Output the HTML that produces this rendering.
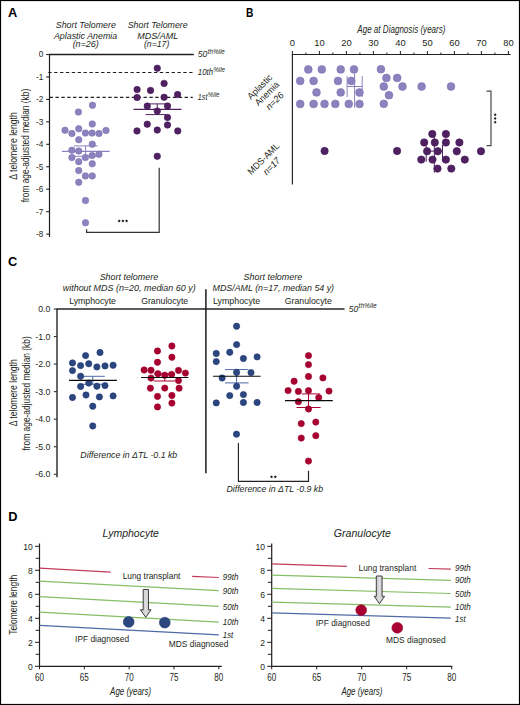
<!DOCTYPE html>
<html><head><meta charset="utf-8"><title>Figure</title>
<style>html,body{margin:0;padding:0;background:#fff;overflow:hidden;width:520px;height:705px;}svg{display:block;}</style>
</head><body>
<svg width="520" height="705" viewBox="0 0 520 705" font-family='"Liberation Sans", sans-serif'>
<defs><linearGradient id="ag" x1="0" y1="0" x2="1" y2="0"><stop offset="0" stop-color="#b9b9bb"/><stop offset="0.5" stop-color="#dedee0"/><stop offset="1" stop-color="#b9b9bb"/></linearGradient></defs>
<rect x="0" y="0" width="520" height="705" fill="#fff"/>
<text x="8.00" y="16.80" font-size="12.8" text-anchor="start" fill="#000" font-weight="bold" >A</text>
<text x="85.80" y="27.60" font-size="9" text-anchor="middle" fill="#231f20" font-style="italic" textLength="60.00" lengthAdjust="spacingAndGlyphs" >Short Telomere</text>
<text x="85.60" y="38.50" font-size="9" text-anchor="middle" fill="#231f20" font-style="italic" textLength="63.40" lengthAdjust="spacingAndGlyphs" >Aplastic Anemia</text>
<text x="85.70" y="47.30" font-size="9" text-anchor="middle" fill="#231f20" font-style="italic" textLength="26.10" lengthAdjust="spacingAndGlyphs" >(n=26)</text>
<text x="157.70" y="27.60" font-size="9" text-anchor="middle" fill="#231f20" font-style="italic" textLength="60.00" lengthAdjust="spacingAndGlyphs" >Short Telomere</text>
<text x="157.70" y="38.50" font-size="9" text-anchor="middle" fill="#231f20" font-style="italic" textLength="41.00" lengthAdjust="spacingAndGlyphs" >MDS/AML</text>
<text x="156.60" y="47.30" font-size="9" text-anchor="middle" fill="#231f20" font-style="italic" textLength="25.40" lengthAdjust="spacingAndGlyphs" >(n=17)</text>
<line x1="49.50" y1="54.50" x2="49.50" y2="237.00" stroke="#231f20" stroke-width="1.2" stroke-linecap="butt"/>
<line x1="48.90" y1="54.50" x2="193.80" y2="54.50" stroke="#231f20" stroke-width="1.3" stroke-linecap="butt"/>
<line x1="46.20" y1="54.50" x2="49.50" y2="54.50" stroke="#231f20" stroke-width="1.1" stroke-linecap="butt"/>
<text x="43.20" y="57.40" font-size="8.2" text-anchor="end" fill="#231f20"  >0</text>
<line x1="46.20" y1="76.95" x2="49.50" y2="76.95" stroke="#231f20" stroke-width="1.1" stroke-linecap="butt"/>
<text x="43.20" y="79.85" font-size="8.2" text-anchor="end" fill="#231f20"  >-1</text>
<line x1="46.20" y1="99.40" x2="49.50" y2="99.40" stroke="#231f20" stroke-width="1.1" stroke-linecap="butt"/>
<text x="43.20" y="102.30" font-size="8.2" text-anchor="end" fill="#231f20"  >-2</text>
<line x1="46.20" y1="121.85" x2="49.50" y2="121.85" stroke="#231f20" stroke-width="1.1" stroke-linecap="butt"/>
<text x="43.20" y="124.75" font-size="8.2" text-anchor="end" fill="#231f20"  >-3</text>
<line x1="46.20" y1="144.30" x2="49.50" y2="144.30" stroke="#231f20" stroke-width="1.1" stroke-linecap="butt"/>
<text x="43.20" y="147.20" font-size="8.2" text-anchor="end" fill="#231f20"  >-4</text>
<line x1="46.20" y1="166.75" x2="49.50" y2="166.75" stroke="#231f20" stroke-width="1.1" stroke-linecap="butt"/>
<text x="43.20" y="169.65" font-size="8.2" text-anchor="end" fill="#231f20"  >-5</text>
<line x1="46.20" y1="189.20" x2="49.50" y2="189.20" stroke="#231f20" stroke-width="1.1" stroke-linecap="butt"/>
<text x="43.20" y="192.10" font-size="8.2" text-anchor="end" fill="#231f20"  >-6</text>
<line x1="46.20" y1="211.65" x2="49.50" y2="211.65" stroke="#231f20" stroke-width="1.1" stroke-linecap="butt"/>
<text x="43.20" y="214.55" font-size="8.2" text-anchor="end" fill="#231f20"  >-7</text>
<line x1="46.20" y1="234.10" x2="49.50" y2="234.10" stroke="#231f20" stroke-width="1.1" stroke-linecap="butt"/>
<text x="43.20" y="237.00" font-size="8.2" text-anchor="end" fill="#231f20"  >-8</text>
<line x1="48.30" y1="72.50" x2="192.80" y2="72.50" stroke="#231f20" stroke-width="1.05" stroke-dasharray="3.35 2.52" stroke-linecap="butt"/>
<line x1="49.60" y1="97.35" x2="192.80" y2="97.35" stroke="#231f20" stroke-width="1.05" stroke-dasharray="3.35 2.52" stroke-linecap="butt"/>
<text x="197.80" y="57.20" font-size="9.0" text-anchor="start" fill="#231f20" font-style="italic" textLength="9.60" lengthAdjust="spacingAndGlyphs" >50</text>
<text x="207.70" y="54.10" font-size="6.8" text-anchor="start" fill="#231f20" font-style="italic" textLength="17.20" lengthAdjust="spacingAndGlyphs" >th%ile</text>
<text x="197.80" y="75.20" font-size="9.0" text-anchor="start" fill="#231f20" font-style="italic" textLength="15.20" lengthAdjust="spacingAndGlyphs" >10th</text>
<text x="213.30" y="72.10" font-size="6.8" text-anchor="start" fill="#231f20" font-style="italic" textLength="11.80" lengthAdjust="spacingAndGlyphs" >%ile</text>
<text x="197.80" y="100.00" font-size="9.0" text-anchor="start" fill="#231f20" font-style="italic" textLength="9.60" lengthAdjust="spacingAndGlyphs" >1st</text>
<text x="207.70" y="96.90" font-size="6.8" text-anchor="start" fill="#231f20" font-style="italic" textLength="11.80" lengthAdjust="spacingAndGlyphs" >%ile</text>
<text x="17.30" y="146.00" font-size="10" text-anchor="middle" fill="#231f20"  textLength="67.50" lengthAdjust="spacingAndGlyphs" transform="rotate(-90 17.30 146.00)" >Δ telomere length</text>
<text x="28.80" y="145.60" font-size="10" text-anchor="middle" fill="#231f20"  textLength="113.50" lengthAdjust="spacingAndGlyphs" transform="rotate(-90 28.80 145.60)" >from age-adjusted median (kb)</text>
<line x1="61.90" y1="151.40" x2="109.60" y2="151.40" stroke="#8b82be" stroke-width="1.3" stroke-linecap="butt"/>
<line x1="74.00" y1="145.90" x2="97.50" y2="145.90" stroke="#8b82be" stroke-width="1.0" stroke-linecap="butt"/>
<line x1="74.00" y1="156.30" x2="97.50" y2="156.30" stroke="#8b82be" stroke-width="1.0" stroke-linecap="butt"/>
<line x1="85.60" y1="145.90" x2="85.60" y2="156.30" stroke="#8b82be" stroke-width="1.0" stroke-linecap="butt"/>
<circle cx="92.50" cy="105.25" r="3.25" fill="#8b82be" stroke="#7d73b5" stroke-width="0.6"/>
<circle cx="78.40" cy="112.10" r="3.25" fill="#8b82be" stroke="#7d73b5" stroke-width="0.6"/>
<circle cx="92.25" cy="124.00" r="3.25" fill="#8b82be" stroke="#7d73b5" stroke-width="0.6"/>
<circle cx="65.00" cy="130.25" r="3.25" fill="#8b82be" stroke="#7d73b5" stroke-width="0.6"/>
<circle cx="78.75" cy="128.75" r="3.25" fill="#8b82be" stroke="#7d73b5" stroke-width="0.6"/>
<circle cx="71.90" cy="133.50" r="3.25" fill="#8b82be" stroke="#7d73b5" stroke-width="0.6"/>
<circle cx="85.40" cy="133.10" r="3.25" fill="#8b82be" stroke="#7d73b5" stroke-width="0.6"/>
<circle cx="92.10" cy="133.10" r="3.25" fill="#8b82be" stroke="#7d73b5" stroke-width="0.6"/>
<circle cx="99.00" cy="133.50" r="3.25" fill="#8b82be" stroke="#7d73b5" stroke-width="0.6"/>
<circle cx="106.00" cy="130.40" r="3.25" fill="#8b82be" stroke="#7d73b5" stroke-width="0.6"/>
<circle cx="78.75" cy="139.75" r="3.25" fill="#8b82be" stroke="#7d73b5" stroke-width="0.6"/>
<circle cx="92.25" cy="144.20" r="3.25" fill="#8b82be" stroke="#7d73b5" stroke-width="0.6"/>
<circle cx="71.90" cy="150.20" r="3.25" fill="#8b82be" stroke="#7d73b5" stroke-width="0.6"/>
<circle cx="78.75" cy="151.00" r="3.25" fill="#8b82be" stroke="#7d73b5" stroke-width="0.6"/>
<circle cx="98.90" cy="154.30" r="3.25" fill="#8b82be" stroke="#7d73b5" stroke-width="0.6"/>
<circle cx="92.10" cy="155.60" r="3.25" fill="#8b82be" stroke="#7d73b5" stroke-width="0.6"/>
<circle cx="85.40" cy="157.50" r="3.25" fill="#8b82be" stroke="#7d73b5" stroke-width="0.6"/>
<circle cx="71.90" cy="157.60" r="3.25" fill="#8b82be" stroke="#7d73b5" stroke-width="0.6"/>
<circle cx="78.75" cy="161.70" r="3.25" fill="#8b82be" stroke="#7d73b5" stroke-width="0.6"/>
<circle cx="92.25" cy="163.80" r="3.25" fill="#8b82be" stroke="#7d73b5" stroke-width="0.6"/>
<circle cx="78.75" cy="170.60" r="3.25" fill="#8b82be" stroke="#7d73b5" stroke-width="0.6"/>
<circle cx="85.40" cy="175.90" r="3.25" fill="#8b82be" stroke="#7d73b5" stroke-width="0.6"/>
<circle cx="92.25" cy="175.90" r="3.25" fill="#8b82be" stroke="#7d73b5" stroke-width="0.6"/>
<circle cx="78.75" cy="182.30" r="3.25" fill="#8b82be" stroke="#7d73b5" stroke-width="0.6"/>
<circle cx="85.50" cy="200.50" r="3.25" fill="#8b82be" stroke="#7d73b5" stroke-width="0.6"/>
<circle cx="85.50" cy="222.70" r="3.25" fill="#8b82be" stroke="#7d73b5" stroke-width="0.6"/>
<line x1="133.50" y1="109.40" x2="181.50" y2="109.40" stroke="#4f2161" stroke-width="1.4" stroke-linecap="butt"/>
<line x1="147.50" y1="103.90" x2="167.50" y2="103.90" stroke="#4f2161" stroke-width="1.0" stroke-linecap="butt"/>
<line x1="145.60" y1="114.60" x2="166.00" y2="114.60" stroke="#4f2161" stroke-width="1.0" stroke-linecap="butt"/>
<line x1="157.25" y1="103.90" x2="157.25" y2="114.60" stroke="#4f2161" stroke-width="1.0" stroke-linecap="butt"/>
<circle cx="157.25" cy="68.25" r="3.25" fill="#4f2161" stroke="#45165a" stroke-width="0.6"/>
<circle cx="164.10" cy="83.40" r="3.25" fill="#4f2161" stroke="#45165a" stroke-width="0.6"/>
<circle cx="137.10" cy="89.60" r="3.25" fill="#4f2161" stroke="#45165a" stroke-width="0.6"/>
<circle cx="150.50" cy="90.40" r="3.25" fill="#4f2161" stroke="#45165a" stroke-width="0.6"/>
<circle cx="177.60" cy="94.60" r="3.25" fill="#4f2161" stroke="#45165a" stroke-width="0.6"/>
<circle cx="137.10" cy="97.50" r="3.25" fill="#4f2161" stroke="#45165a" stroke-width="0.6"/>
<circle cx="164.10" cy="97.30" r="3.25" fill="#4f2161" stroke="#45165a" stroke-width="0.6"/>
<circle cx="147.25" cy="106.10" r="3.25" fill="#4f2161" stroke="#45165a" stroke-width="0.6"/>
<circle cx="167.50" cy="106.00" r="3.25" fill="#4f2161" stroke="#45165a" stroke-width="0.6"/>
<circle cx="157.25" cy="111.10" r="3.25" fill="#4f2161" stroke="#45165a" stroke-width="0.6"/>
<circle cx="167.50" cy="117.40" r="3.25" fill="#4f2161" stroke="#45165a" stroke-width="0.6"/>
<circle cx="147.25" cy="124.20" r="3.25" fill="#4f2161" stroke="#45165a" stroke-width="0.6"/>
<circle cx="167.50" cy="125.00" r="3.25" fill="#4f2161" stroke="#45165a" stroke-width="0.6"/>
<circle cx="137.00" cy="130.90" r="3.25" fill="#4f2161" stroke="#45165a" stroke-width="0.6"/>
<circle cx="157.25" cy="130.10" r="3.25" fill="#4f2161" stroke="#45165a" stroke-width="0.6"/>
<circle cx="177.75" cy="130.90" r="3.25" fill="#4f2161" stroke="#45165a" stroke-width="0.6"/>
<circle cx="157.25" cy="156.30" r="3.25" fill="#4f2161" stroke="#45165a" stroke-width="0.6"/>
<polyline points="86.60,229.30 86.60,232.30 159.20,232.30 159.20,167.70" stroke="#333" stroke-width="1.2" fill="none"/>
<polygon points="119.20,219.25 119.67,220.35 120.86,220.46 119.96,221.25 120.23,222.42 119.20,221.80 118.17,222.42 118.44,221.25 117.54,220.46 118.73,220.35" fill="#111"/>
<polygon points="122.90,219.25 123.37,220.35 124.56,220.46 123.66,221.25 123.93,222.42 122.90,221.80 121.87,222.42 122.14,221.25 121.24,220.46 122.43,220.35" fill="#111"/>
<polygon points="126.60,219.25 127.07,220.35 128.26,220.46 127.36,221.25 127.63,222.42 126.60,221.80 125.57,222.42 125.84,221.25 124.94,220.46 126.13,220.35" fill="#111"/>
<text x="246.00" y="16.80" font-size="13.2" text-anchor="start" fill="#000" font-weight="bold" textLength="7.40" lengthAdjust="spacingAndGlyphs" >B</text>
<line x1="292.00" y1="54.50" x2="510.60" y2="54.50" stroke="#231f20" stroke-width="1.15" stroke-linecap="butt"/>
<line x1="292.40" y1="54.00" x2="292.40" y2="184.60" stroke="#231f20" stroke-width="1.15" stroke-linecap="butt"/>
<line x1="292.40" y1="51.00" x2="292.40" y2="54.50" stroke="#231f20" stroke-width="1.0" stroke-linecap="butt"/>
<text x="292.40" y="45.50" font-size="9.4" text-anchor="middle" fill="#231f20"  >0</text>
<line x1="305.90" y1="52.50" x2="305.90" y2="54.50" stroke="#231f20" stroke-width="1.0" stroke-linecap="butt"/>
<line x1="319.40" y1="51.00" x2="319.40" y2="54.50" stroke="#231f20" stroke-width="1.0" stroke-linecap="butt"/>
<text x="319.40" y="45.50" font-size="9.4" text-anchor="middle" fill="#231f20"  >10</text>
<line x1="332.90" y1="52.50" x2="332.90" y2="54.50" stroke="#231f20" stroke-width="1.0" stroke-linecap="butt"/>
<line x1="346.40" y1="51.00" x2="346.40" y2="54.50" stroke="#231f20" stroke-width="1.0" stroke-linecap="butt"/>
<text x="346.40" y="45.50" font-size="9.4" text-anchor="middle" fill="#231f20"  >20</text>
<line x1="359.90" y1="52.50" x2="359.90" y2="54.50" stroke="#231f20" stroke-width="1.0" stroke-linecap="butt"/>
<line x1="373.40" y1="51.00" x2="373.40" y2="54.50" stroke="#231f20" stroke-width="1.0" stroke-linecap="butt"/>
<text x="373.40" y="45.50" font-size="9.4" text-anchor="middle" fill="#231f20"  >30</text>
<line x1="386.90" y1="52.50" x2="386.90" y2="54.50" stroke="#231f20" stroke-width="1.0" stroke-linecap="butt"/>
<line x1="400.40" y1="51.00" x2="400.40" y2="54.50" stroke="#231f20" stroke-width="1.0" stroke-linecap="butt"/>
<text x="400.40" y="45.50" font-size="9.4" text-anchor="middle" fill="#231f20"  >40</text>
<line x1="413.90" y1="52.50" x2="413.90" y2="54.50" stroke="#231f20" stroke-width="1.0" stroke-linecap="butt"/>
<line x1="427.40" y1="51.00" x2="427.40" y2="54.50" stroke="#231f20" stroke-width="1.0" stroke-linecap="butt"/>
<text x="427.40" y="45.50" font-size="9.4" text-anchor="middle" fill="#231f20"  >50</text>
<line x1="440.90" y1="52.50" x2="440.90" y2="54.50" stroke="#231f20" stroke-width="1.0" stroke-linecap="butt"/>
<line x1="454.40" y1="51.00" x2="454.40" y2="54.50" stroke="#231f20" stroke-width="1.0" stroke-linecap="butt"/>
<text x="454.40" y="45.50" font-size="9.4" text-anchor="middle" fill="#231f20"  >60</text>
<line x1="467.90" y1="52.50" x2="467.90" y2="54.50" stroke="#231f20" stroke-width="1.0" stroke-linecap="butt"/>
<line x1="481.40" y1="51.00" x2="481.40" y2="54.50" stroke="#231f20" stroke-width="1.0" stroke-linecap="butt"/>
<text x="481.40" y="45.50" font-size="9.4" text-anchor="middle" fill="#231f20"  >70</text>
<line x1="494.90" y1="52.50" x2="494.90" y2="54.50" stroke="#231f20" stroke-width="1.0" stroke-linecap="butt"/>
<line x1="508.40" y1="51.00" x2="508.40" y2="54.50" stroke="#231f20" stroke-width="1.0" stroke-linecap="butt"/>
<text x="508.40" y="45.50" font-size="9.4" text-anchor="middle" fill="#231f20"  >80</text>
<text x="401.40" y="32.50" font-size="10.2" text-anchor="middle" fill="#231f20" font-style="italic" textLength="88.20" lengthAdjust="spacingAndGlyphs" >Age at Diagnosis (years)</text>
<text x="262.00" y="89.00" font-size="9.2" text-anchor="middle" fill="#231f20"  textLength="31.20" lengthAdjust="spacingAndGlyphs" transform="rotate(-45 262.00 89.00)" >Aplastic</text>
<text x="269.20" y="95.70" font-size="9.2" text-anchor="middle" fill="#231f20"  textLength="30.00" lengthAdjust="spacingAndGlyphs" transform="rotate(-45 269.20 95.70)" >Anemia</text>
<text x="276.90" y="103.20" font-size="9.2" text-anchor="middle" fill="#231f20" font-style="italic" textLength="21.00" lengthAdjust="spacingAndGlyphs" transform="rotate(-45 276.90 103.20)" >n=26</text>
<text x="265.60" y="160.90" font-size="9.2" text-anchor="middle" fill="#231f20"  textLength="40.50" lengthAdjust="spacingAndGlyphs" transform="rotate(-45 265.60 160.90)" >MDS-AML</text>
<text x="273.80" y="168.40" font-size="9.2" text-anchor="middle" fill="#231f20" font-style="italic" textLength="20.00" lengthAdjust="spacingAndGlyphs" transform="rotate(-45 273.80 168.40)" >n=17</text>
<circle cx="308.30" cy="69.40" r="3.90" fill="#8b82be" stroke="#7d73b5" stroke-width="0.6"/>
<circle cx="321.80" cy="69.40" r="3.90" fill="#8b82be" stroke="#7d73b5" stroke-width="0.6"/>
<circle cx="340.70" cy="69.40" r="3.90" fill="#8b82be" stroke="#7d73b5" stroke-width="0.6"/>
<circle cx="354.00" cy="69.40" r="3.90" fill="#8b82be" stroke="#7d73b5" stroke-width="0.6"/>
<circle cx="380.90" cy="69.20" r="3.90" fill="#8b82be" stroke="#7d73b5" stroke-width="0.6"/>
<circle cx="300.20" cy="80.90" r="3.90" fill="#8b82be" stroke="#7d73b5" stroke-width="0.6"/>
<circle cx="313.60" cy="80.90" r="3.90" fill="#8b82be" stroke="#7d73b5" stroke-width="0.6"/>
<circle cx="338.00" cy="80.90" r="3.90" fill="#8b82be" stroke="#7d73b5" stroke-width="0.6"/>
<circle cx="351.30" cy="80.90" r="3.90" fill="#8b82be" stroke="#7d73b5" stroke-width="0.6"/>
<circle cx="316.50" cy="92.40" r="3.90" fill="#8b82be" stroke="#7d73b5" stroke-width="0.6"/>
<circle cx="340.70" cy="92.40" r="3.90" fill="#8b82be" stroke="#7d73b5" stroke-width="0.6"/>
<circle cx="359.50" cy="92.50" r="3.90" fill="#8b82be" stroke="#7d73b5" stroke-width="0.6"/>
<circle cx="300.20" cy="103.90" r="3.90" fill="#8b82be" stroke="#7d73b5" stroke-width="0.6"/>
<circle cx="313.60" cy="103.90" r="3.90" fill="#8b82be" stroke="#7d73b5" stroke-width="0.6"/>
<circle cx="324.50" cy="103.90" r="3.90" fill="#8b82be" stroke="#7d73b5" stroke-width="0.6"/>
<circle cx="335.30" cy="103.90" r="3.90" fill="#8b82be" stroke="#7d73b5" stroke-width="0.6"/>
<circle cx="348.80" cy="103.90" r="3.90" fill="#8b82be" stroke="#7d73b5" stroke-width="0.6"/>
<circle cx="359.50" cy="103.90" r="3.90" fill="#8b82be" stroke="#7d73b5" stroke-width="0.6"/>
<circle cx="386.40" cy="77.90" r="3.90" fill="#8b82be" stroke="#7d73b5" stroke-width="0.6"/>
<circle cx="397.20" cy="77.90" r="3.90" fill="#8b82be" stroke="#7d73b5" stroke-width="0.6"/>
<circle cx="383.80" cy="86.50" r="3.90" fill="#8b82be" stroke="#7d73b5" stroke-width="0.6"/>
<circle cx="402.50" cy="86.50" r="3.90" fill="#8b82be" stroke="#7d73b5" stroke-width="0.6"/>
<circle cx="421.60" cy="86.50" r="3.90" fill="#8b82be" stroke="#7d73b5" stroke-width="0.6"/>
<circle cx="451.00" cy="86.50" r="3.90" fill="#8b82be" stroke="#7d73b5" stroke-width="0.6"/>
<circle cx="389.00" cy="95.20" r="3.90" fill="#8b82be" stroke="#7d73b5" stroke-width="0.6"/>
<circle cx="383.80" cy="103.80" r="3.90" fill="#8b82be" stroke="#7d73b5" stroke-width="0.6"/>
<line x1="354.60" y1="73.50" x2="354.60" y2="107.80" stroke="#8b82be" stroke-width="1.0" stroke-linecap="butt"/>
<line x1="347.10" y1="76.20" x2="347.10" y2="97.00" stroke="#8b82be" stroke-width="1.0" stroke-linecap="butt"/>
<line x1="362.20" y1="76.20" x2="362.20" y2="97.00" stroke="#8b82be" stroke-width="1.0" stroke-linecap="butt"/>
<line x1="347.10" y1="86.50" x2="362.20" y2="86.50" stroke="#8b82be" stroke-width="1.0" stroke-linecap="butt"/>
<circle cx="324.60" cy="151.00" r="3.70" fill="#4f2161" stroke="#45165a" stroke-width="0.6"/>
<circle cx="397.10" cy="151.00" r="3.70" fill="#4f2161" stroke="#45165a" stroke-width="0.6"/>
<circle cx="481.00" cy="151.30" r="3.70" fill="#4f2161" stroke="#45165a" stroke-width="0.6"/>
<circle cx="432.30" cy="134.00" r="3.70" fill="#4f2161" stroke="#45165a" stroke-width="0.6"/>
<circle cx="445.90" cy="134.00" r="3.70" fill="#4f2161" stroke="#45165a" stroke-width="0.6"/>
<circle cx="424.20" cy="142.50" r="3.70" fill="#4f2161" stroke="#45165a" stroke-width="0.6"/>
<circle cx="434.80" cy="142.50" r="3.70" fill="#4f2161" stroke="#45165a" stroke-width="0.6"/>
<circle cx="445.90" cy="142.50" r="3.70" fill="#4f2161" stroke="#45165a" stroke-width="0.6"/>
<circle cx="459.40" cy="142.50" r="3.70" fill="#4f2161" stroke="#45165a" stroke-width="0.6"/>
<circle cx="427.10" cy="151.30" r="3.70" fill="#4f2161" stroke="#45165a" stroke-width="0.6"/>
<circle cx="437.80" cy="151.30" r="3.70" fill="#4f2161" stroke="#45165a" stroke-width="0.6"/>
<circle cx="456.80" cy="151.30" r="3.70" fill="#4f2161" stroke="#45165a" stroke-width="0.6"/>
<circle cx="421.30" cy="159.60" r="3.70" fill="#4f2161" stroke="#45165a" stroke-width="0.6"/>
<circle cx="432.50" cy="159.60" r="3.70" fill="#4f2161" stroke="#45165a" stroke-width="0.6"/>
<circle cx="445.90" cy="159.60" r="3.70" fill="#4f2161" stroke="#45165a" stroke-width="0.6"/>
<circle cx="464.80" cy="159.60" r="3.70" fill="#4f2161" stroke="#45165a" stroke-width="0.6"/>
<circle cx="437.50" cy="168.60" r="3.70" fill="#4f2161" stroke="#45165a" stroke-width="0.6"/>
<circle cx="451.30" cy="168.60" r="3.70" fill="#4f2161" stroke="#45165a" stroke-width="0.6"/>
<line x1="434.30" y1="137.00" x2="434.30" y2="172.60" stroke="#4f2161" stroke-width="1.0" stroke-linecap="butt"/>
<line x1="426.20" y1="146.00" x2="426.20" y2="161.80" stroke="#4f2161" stroke-width="1.0" stroke-linecap="butt"/>
<line x1="442.50" y1="145.00" x2="442.50" y2="161.50" stroke="#4f2161" stroke-width="1.0" stroke-linecap="butt"/>
<line x1="426.20" y1="151.10" x2="442.50" y2="151.10" stroke="#4f2161" stroke-width="1.0" stroke-linecap="butt"/>
<polyline points="486.50,91.10 491.00,91.10 491.00,145.60 486.50,145.60" stroke="#4a4a4a" stroke-width="1.2" fill="none"/>
<polygon points="496.85,114.70 495.75,115.17 495.64,116.36 494.85,115.46 493.68,115.73 494.30,114.70 493.68,113.67 494.85,113.94 495.64,113.04 495.75,114.23" fill="#111"/>
<polygon points="496.85,118.45 495.75,118.92 495.64,120.11 494.85,119.21 493.68,119.48 494.30,118.45 493.68,117.42 494.85,117.69 495.64,116.79 495.75,117.98" fill="#111"/>
<polygon points="496.85,122.20 495.75,122.67 495.64,123.86 494.85,122.96 493.68,123.23 494.30,122.20 493.68,121.17 494.85,121.44 495.64,120.54 495.75,121.73" fill="#111"/>
<text x="7.90" y="266.20" font-size="12.8" text-anchor="start" fill="#000" font-weight="bold" >C</text>
<line x1="57.00" y1="308.90" x2="57.00" y2="477.30" stroke="#262626" stroke-width="1.4" stroke-linecap="butt"/>
<line x1="56.40" y1="309.00" x2="344.50" y2="309.00" stroke="#262626" stroke-width="1.5" stroke-linecap="butt"/>
<line x1="53.80" y1="309.00" x2="57.00" y2="309.00" stroke="#333" stroke-width="1.1" stroke-linecap="butt"/>
<text x="50.40" y="312.00" font-size="8.8" text-anchor="end" fill="#231f20"  >0.0</text>
<line x1="53.80" y1="336.55" x2="57.00" y2="336.55" stroke="#333" stroke-width="1.1" stroke-linecap="butt"/>
<text x="50.40" y="339.55" font-size="8.8" text-anchor="end" fill="#231f20"  >-1.0</text>
<line x1="53.80" y1="364.10" x2="57.00" y2="364.10" stroke="#333" stroke-width="1.1" stroke-linecap="butt"/>
<text x="50.40" y="367.10" font-size="8.8" text-anchor="end" fill="#231f20"  >-2.0</text>
<line x1="53.80" y1="391.65" x2="57.00" y2="391.65" stroke="#333" stroke-width="1.1" stroke-linecap="butt"/>
<text x="50.40" y="394.65" font-size="8.8" text-anchor="end" fill="#231f20"  >-3.0</text>
<line x1="53.80" y1="419.20" x2="57.00" y2="419.20" stroke="#333" stroke-width="1.1" stroke-linecap="butt"/>
<text x="50.40" y="422.20" font-size="8.8" text-anchor="end" fill="#231f20"  >-4.0</text>
<line x1="53.80" y1="446.75" x2="57.00" y2="446.75" stroke="#333" stroke-width="1.1" stroke-linecap="butt"/>
<text x="50.40" y="449.75" font-size="8.8" text-anchor="end" fill="#231f20"  >-5.0</text>
<line x1="53.80" y1="474.30" x2="57.00" y2="474.30" stroke="#333" stroke-width="1.1" stroke-linecap="butt"/>
<text x="50.40" y="477.30" font-size="8.8" text-anchor="end" fill="#231f20"  >-6.0</text>
<line x1="205.90" y1="289.20" x2="205.90" y2="473.20" stroke="#1a1a1a" stroke-width="1.5" stroke-linecap="butt"/>
<text x="128.90" y="280.20" font-size="8.8" text-anchor="middle" fill="#231f20" font-style="italic" textLength="58.50" lengthAdjust="spacingAndGlyphs" >Short telomere</text>
<text x="129.20" y="290.90" font-size="8.8" text-anchor="middle" fill="#231f20" font-style="italic" textLength="132.90" lengthAdjust="spacingAndGlyphs" >without MDS (n=20, median 60 y)</text>
<text x="272.90" y="280.00" font-size="8.8" text-anchor="middle" fill="#231f20" font-style="italic" textLength="58.60" lengthAdjust="spacingAndGlyphs" >Short telomere</text>
<text x="273.30" y="290.90" font-size="8.8" text-anchor="middle" fill="#231f20" font-style="italic" textLength="121.50" lengthAdjust="spacingAndGlyphs" >MDS/AML (n=17, median 54 y)</text>
<text x="92.60" y="304.00" font-size="8.8" text-anchor="middle" fill="#231f20"  textLength="46.80" lengthAdjust="spacingAndGlyphs" >Lymphocyte</text>
<text x="164.70" y="304.00" font-size="8.8" text-anchor="middle" fill="#231f20"  textLength="47.00" lengthAdjust="spacingAndGlyphs" >Granulocyte</text>
<text x="236.60" y="304.00" font-size="8.8" text-anchor="middle" fill="#231f20"  textLength="47.20" lengthAdjust="spacingAndGlyphs" >Lymphocyte</text>
<text x="308.30" y="304.00" font-size="8.8" text-anchor="middle" fill="#231f20"  textLength="47.10" lengthAdjust="spacingAndGlyphs" >Granulocyte</text>
<text x="348.80" y="311.50" font-size="9.0" text-anchor="start" fill="#231f20" font-style="italic" textLength="9.50" lengthAdjust="spacingAndGlyphs" >50</text>
<text x="358.60" y="308.40" font-size="6.8" text-anchor="start" fill="#231f20" font-style="italic" textLength="18.00" lengthAdjust="spacingAndGlyphs" >th%ile</text>
<text x="17.00" y="392.80" font-size="10" text-anchor="middle" fill="#231f20"  textLength="67.10" lengthAdjust="spacingAndGlyphs" transform="rotate(-90 17.00 392.80)" >Δ telomere length</text>
<text x="29.90" y="393.40" font-size="10" text-anchor="middle" fill="#231f20"  textLength="114.40" lengthAdjust="spacingAndGlyphs" transform="rotate(-90 29.90 393.40)" >from age-adjusted median (kb)</text>
<line x1="80.60" y1="376.30" x2="104.80" y2="376.30" stroke="#4d6aa6" stroke-width="1.0" stroke-linecap="butt"/>
<line x1="80.60" y1="384.30" x2="104.80" y2="384.30" stroke="#4d6aa6" stroke-width="1.0" stroke-linecap="butt"/>
<line x1="92.75" y1="376.30" x2="92.75" y2="384.30" stroke="#4d6aa6" stroke-width="1.0" stroke-linecap="butt"/>
<circle cx="100.00" cy="352.50" r="3.15" fill="#2c4780" stroke="#1f3874" stroke-width="0.6"/>
<circle cx="85.60" cy="355.60" r="3.15" fill="#2c4780" stroke="#1f3874" stroke-width="0.6"/>
<circle cx="72.50" cy="362.90" r="3.15" fill="#2c4780" stroke="#1f3874" stroke-width="0.6"/>
<circle cx="80.60" cy="365.60" r="3.15" fill="#2c4780" stroke="#1f3874" stroke-width="0.6"/>
<circle cx="88.75" cy="363.75" r="3.15" fill="#2c4780" stroke="#1f3874" stroke-width="0.6"/>
<circle cx="96.90" cy="366.90" r="3.15" fill="#2c4780" stroke="#1f3874" stroke-width="0.6"/>
<circle cx="105.00" cy="365.90" r="3.15" fill="#2c4780" stroke="#1f3874" stroke-width="0.6"/>
<circle cx="113.10" cy="365.25" r="3.15" fill="#2c4780" stroke="#1f3874" stroke-width="0.6"/>
<circle cx="72.50" cy="370.60" r="3.15" fill="#2c4780" stroke="#1f3874" stroke-width="0.6"/>
<circle cx="80.60" cy="376.25" r="3.15" fill="#2c4780" stroke="#1f3874" stroke-width="0.6"/>
<circle cx="88.75" cy="383.10" r="3.15" fill="#2c4780" stroke="#1f3874" stroke-width="0.6"/>
<circle cx="80.60" cy="386.50" r="3.15" fill="#2c4780" stroke="#1f3874" stroke-width="0.6"/>
<circle cx="96.90" cy="386.25" r="3.15" fill="#2c4780" stroke="#1f3874" stroke-width="0.6"/>
<circle cx="105.00" cy="385.60" r="3.15" fill="#2c4780" stroke="#1f3874" stroke-width="0.6"/>
<circle cx="72.50" cy="397.50" r="3.15" fill="#2c4780" stroke="#1f3874" stroke-width="0.6"/>
<circle cx="86.00" cy="395.00" r="3.15" fill="#2c4780" stroke="#1f3874" stroke-width="0.6"/>
<circle cx="99.40" cy="396.90" r="3.15" fill="#2c4780" stroke="#1f3874" stroke-width="0.6"/>
<circle cx="113.10" cy="395.90" r="3.15" fill="#2c4780" stroke="#1f3874" stroke-width="0.6"/>
<circle cx="92.75" cy="406.25" r="3.15" fill="#2c4780" stroke="#1f3874" stroke-width="0.6"/>
<circle cx="92.75" cy="426.00" r="3.15" fill="#2c4780" stroke="#1f3874" stroke-width="0.6"/>
<line x1="69.00" y1="380.30" x2="116.90" y2="380.30" stroke="#0a0a0a" stroke-width="1.2" stroke-linecap="butt"/>
<line x1="153.80" y1="373.90" x2="175.00" y2="373.90" stroke="#a80030" stroke-width="1.0" stroke-linecap="butt"/>
<line x1="153.80" y1="381.00" x2="175.00" y2="381.00" stroke="#a80030" stroke-width="1.0" stroke-linecap="butt"/>
<line x1="164.75" y1="373.90" x2="164.75" y2="381.00" stroke="#a80030" stroke-width="1.0" stroke-linecap="butt"/>
<circle cx="171.90" cy="346.00" r="3.15" fill="#a80030" stroke="#9a0026" stroke-width="0.6"/>
<circle cx="157.50" cy="351.00" r="3.15" fill="#a80030" stroke="#9a0026" stroke-width="0.6"/>
<circle cx="171.90" cy="357.25" r="3.15" fill="#a80030" stroke="#9a0026" stroke-width="0.6"/>
<circle cx="157.50" cy="362.25" r="3.15" fill="#a80030" stroke="#9a0026" stroke-width="0.6"/>
<circle cx="144.10" cy="370.00" r="3.15" fill="#a80030" stroke="#9a0026" stroke-width="0.6"/>
<circle cx="151.00" cy="370.25" r="3.15" fill="#a80030" stroke="#9a0026" stroke-width="0.6"/>
<circle cx="157.90" cy="373.75" r="3.15" fill="#a80030" stroke="#9a0026" stroke-width="0.6"/>
<circle cx="164.75" cy="375.25" r="3.15" fill="#a80030" stroke="#9a0026" stroke-width="0.6"/>
<circle cx="171.60" cy="374.40" r="3.15" fill="#a80030" stroke="#9a0026" stroke-width="0.6"/>
<circle cx="178.50" cy="370.40" r="3.15" fill="#a80030" stroke="#9a0026" stroke-width="0.6"/>
<circle cx="185.40" cy="373.10" r="3.15" fill="#a80030" stroke="#9a0026" stroke-width="0.6"/>
<circle cx="151.00" cy="378.10" r="3.15" fill="#a80030" stroke="#9a0026" stroke-width="0.6"/>
<circle cx="178.50" cy="380.60" r="3.15" fill="#a80030" stroke="#9a0026" stroke-width="0.6"/>
<circle cx="150.40" cy="388.20" r="3.15" fill="#a80030" stroke="#9a0026" stroke-width="0.6"/>
<circle cx="164.75" cy="388.10" r="3.15" fill="#a80030" stroke="#9a0026" stroke-width="0.6"/>
<circle cx="179.10" cy="388.20" r="3.15" fill="#a80030" stroke="#9a0026" stroke-width="0.6"/>
<circle cx="157.50" cy="396.40" r="3.15" fill="#a80030" stroke="#9a0026" stroke-width="0.6"/>
<circle cx="171.90" cy="395.50" r="3.15" fill="#a80030" stroke="#9a0026" stroke-width="0.6"/>
<circle cx="171.90" cy="403.10" r="3.15" fill="#a80030" stroke="#9a0026" stroke-width="0.6"/>
<circle cx="157.50" cy="406.90" r="3.15" fill="#a80030" stroke="#9a0026" stroke-width="0.6"/>
<line x1="141.00" y1="377.50" x2="188.50" y2="377.50" stroke="#0a0a0a" stroke-width="1.2" stroke-linecap="butt"/>
<line x1="225.00" y1="369.60" x2="248.30" y2="369.60" stroke="#4d6aa6" stroke-width="1.0" stroke-linecap="butt"/>
<line x1="225.00" y1="382.90" x2="248.60" y2="382.90" stroke="#4d6aa6" stroke-width="1.0" stroke-linecap="butt"/>
<line x1="236.60" y1="369.60" x2="236.60" y2="382.90" stroke="#4d6aa6" stroke-width="1.0" stroke-linecap="butt"/>
<circle cx="236.60" cy="326.25" r="3.15" fill="#2c4780" stroke="#1f3874" stroke-width="0.6"/>
<circle cx="236.60" cy="344.60" r="3.15" fill="#2c4780" stroke="#1f3874" stroke-width="0.6"/>
<circle cx="216.25" cy="353.50" r="3.15" fill="#2c4780" stroke="#1f3874" stroke-width="0.6"/>
<circle cx="229.75" cy="352.25" r="3.15" fill="#2c4780" stroke="#1f3874" stroke-width="0.6"/>
<circle cx="243.40" cy="358.50" r="3.15" fill="#2c4780" stroke="#1f3874" stroke-width="0.6"/>
<circle cx="257.10" cy="356.90" r="3.15" fill="#2c4780" stroke="#1f3874" stroke-width="0.6"/>
<circle cx="216.25" cy="361.60" r="3.15" fill="#2c4780" stroke="#1f3874" stroke-width="0.6"/>
<circle cx="236.60" cy="372.40" r="3.15" fill="#2c4780" stroke="#1f3874" stroke-width="0.6"/>
<circle cx="251.00" cy="372.60" r="3.15" fill="#2c4780" stroke="#1f3874" stroke-width="0.6"/>
<circle cx="222.10" cy="378.00" r="3.15" fill="#2c4780" stroke="#1f3874" stroke-width="0.6"/>
<circle cx="236.60" cy="386.25" r="3.15" fill="#2c4780" stroke="#1f3874" stroke-width="0.6"/>
<circle cx="229.75" cy="395.60" r="3.15" fill="#2c4780" stroke="#1f3874" stroke-width="0.6"/>
<circle cx="243.40" cy="394.60" r="3.15" fill="#2c4780" stroke="#1f3874" stroke-width="0.6"/>
<circle cx="216.25" cy="402.90" r="3.15" fill="#2c4780" stroke="#1f3874" stroke-width="0.6"/>
<circle cx="243.40" cy="402.50" r="3.15" fill="#2c4780" stroke="#1f3874" stroke-width="0.6"/>
<circle cx="257.10" cy="402.50" r="3.15" fill="#2c4780" stroke="#1f3874" stroke-width="0.6"/>
<circle cx="236.50" cy="434.20" r="3.15" fill="#2c4780" stroke="#1f3874" stroke-width="0.6"/>
<line x1="213.10" y1="376.25" x2="260.60" y2="376.25" stroke="#0a0a0a" stroke-width="1.2" stroke-linecap="butt"/>
<line x1="301.90" y1="393.90" x2="320.20" y2="393.90" stroke="#a80030" stroke-width="1.0" stroke-linecap="butt"/>
<line x1="296.50" y1="407.50" x2="320.60" y2="407.50" stroke="#a80030" stroke-width="1.0" stroke-linecap="butt"/>
<line x1="308.50" y1="393.90" x2="308.50" y2="407.50" stroke="#a80030" stroke-width="1.0" stroke-linecap="butt"/>
<circle cx="308.50" cy="355.60" r="3.15" fill="#a80030" stroke="#9a0026" stroke-width="0.6"/>
<circle cx="308.50" cy="364.60" r="3.15" fill="#a80030" stroke="#9a0026" stroke-width="0.6"/>
<circle cx="308.50" cy="376.50" r="3.15" fill="#a80030" stroke="#9a0026" stroke-width="0.6"/>
<circle cx="294.10" cy="381.25" r="3.15" fill="#a80030" stroke="#9a0026" stroke-width="0.6"/>
<circle cx="322.90" cy="377.90" r="3.15" fill="#a80030" stroke="#9a0026" stroke-width="0.6"/>
<circle cx="288.10" cy="390.60" r="3.15" fill="#a80030" stroke="#9a0026" stroke-width="0.6"/>
<circle cx="298.40" cy="391.40" r="3.15" fill="#a80030" stroke="#9a0026" stroke-width="0.6"/>
<circle cx="308.50" cy="390.60" r="3.15" fill="#a80030" stroke="#9a0026" stroke-width="0.6"/>
<circle cx="329.00" cy="391.10" r="3.15" fill="#a80030" stroke="#9a0026" stroke-width="0.6"/>
<circle cx="318.75" cy="397.60" r="3.15" fill="#a80030" stroke="#9a0026" stroke-width="0.6"/>
<circle cx="298.40" cy="401.70" r="3.15" fill="#a80030" stroke="#9a0026" stroke-width="0.6"/>
<circle cx="308.50" cy="409.00" r="3.15" fill="#a80030" stroke="#9a0026" stroke-width="0.6"/>
<circle cx="301.25" cy="423.60" r="3.15" fill="#a80030" stroke="#9a0026" stroke-width="0.6"/>
<circle cx="315.80" cy="422.10" r="3.15" fill="#a80030" stroke="#9a0026" stroke-width="0.6"/>
<circle cx="301.25" cy="438.10" r="3.15" fill="#a80030" stroke="#9a0026" stroke-width="0.6"/>
<circle cx="315.80" cy="435.70" r="3.15" fill="#a80030" stroke="#9a0026" stroke-width="0.6"/>
<circle cx="308.50" cy="461.10" r="3.15" fill="#a80030" stroke="#9a0026" stroke-width="0.6"/>
<line x1="285.00" y1="400.60" x2="332.80" y2="400.60" stroke="#0a0a0a" stroke-width="1.2" stroke-linecap="butt"/>
<polyline points="238.40,443.00 238.40,481.40 308.50,481.40 308.50,470.80" stroke="#222" stroke-width="1.15" fill="none"/>
<polygon points="271.50,475.15 271.97,476.25 273.16,476.36 272.26,477.15 272.53,478.32 271.50,477.70 270.47,478.32 270.74,477.15 269.84,476.36 271.03,476.25" fill="#111"/>
<polygon points="275.30,475.15 275.77,476.25 276.96,476.36 276.06,477.15 276.33,478.32 275.30,477.70 274.27,478.32 274.54,477.15 273.64,476.36 274.83,476.25" fill="#111"/>
<text x="128.80" y="457.80" font-size="9.2" text-anchor="middle" fill="#231f20" font-style="italic" textLength="96.90" lengthAdjust="spacingAndGlyphs" >Difference in ΔTL -0.1 kb</text>
<text x="274.80" y="491.80" font-size="9.2" text-anchor="middle" fill="#231f20" font-style="italic" textLength="96.60" lengthAdjust="spacingAndGlyphs" >Difference in ΔTL -0.9 kb</text>
<text x="8.20" y="521.40" font-size="12.8" text-anchor="start" fill="#000" font-weight="bold" >D</text>
<line x1="39.50" y1="543.50" x2="39.50" y2="667.00" stroke="#231f20" stroke-width="1.2" stroke-linecap="butt"/>
<line x1="38.90" y1="666.30" x2="221.70" y2="666.30" stroke="#231f20" stroke-width="1.3" stroke-linecap="butt"/>
<line x1="35.00" y1="666.30" x2="39.50" y2="666.30" stroke="#231f20" stroke-width="1.0" stroke-linecap="butt"/>
<text x="32.70" y="669.60" font-size="9.6" text-anchor="end" fill="#231f20"  textLength="4.75" lengthAdjust="spacingAndGlyphs" >0</text>
<line x1="35.70" y1="654.30" x2="39.50" y2="654.30" stroke="#231f20" stroke-width="1.0" stroke-linecap="butt"/>
<line x1="35.00" y1="642.30" x2="39.50" y2="642.30" stroke="#231f20" stroke-width="1.0" stroke-linecap="butt"/>
<text x="32.70" y="645.60" font-size="9.6" text-anchor="end" fill="#231f20"  textLength="4.75" lengthAdjust="spacingAndGlyphs" >2</text>
<line x1="35.70" y1="630.30" x2="39.50" y2="630.30" stroke="#231f20" stroke-width="1.0" stroke-linecap="butt"/>
<line x1="35.00" y1="618.30" x2="39.50" y2="618.30" stroke="#231f20" stroke-width="1.0" stroke-linecap="butt"/>
<text x="32.70" y="621.60" font-size="9.6" text-anchor="end" fill="#231f20"  textLength="4.75" lengthAdjust="spacingAndGlyphs" >4</text>
<line x1="35.70" y1="606.30" x2="39.50" y2="606.30" stroke="#231f20" stroke-width="1.0" stroke-linecap="butt"/>
<line x1="35.00" y1="594.30" x2="39.50" y2="594.30" stroke="#231f20" stroke-width="1.0" stroke-linecap="butt"/>
<text x="32.70" y="597.60" font-size="9.6" text-anchor="end" fill="#231f20"  textLength="4.75" lengthAdjust="spacingAndGlyphs" >6</text>
<line x1="35.70" y1="582.30" x2="39.50" y2="582.30" stroke="#231f20" stroke-width="1.0" stroke-linecap="butt"/>
<line x1="35.00" y1="570.30" x2="39.50" y2="570.30" stroke="#231f20" stroke-width="1.0" stroke-linecap="butt"/>
<text x="32.70" y="573.60" font-size="9.6" text-anchor="end" fill="#231f20"  textLength="4.75" lengthAdjust="spacingAndGlyphs" >8</text>
<line x1="35.70" y1="558.30" x2="39.50" y2="558.30" stroke="#231f20" stroke-width="1.0" stroke-linecap="butt"/>
<line x1="35.00" y1="546.30" x2="39.50" y2="546.30" stroke="#231f20" stroke-width="1.0" stroke-linecap="butt"/>
<text x="32.70" y="549.60" font-size="9.6" text-anchor="end" fill="#231f20"  textLength="9.50" lengthAdjust="spacingAndGlyphs" >10</text>
<line x1="39.50" y1="666.30" x2="39.50" y2="669.30" stroke="#231f20" stroke-width="1.0" stroke-linecap="butt"/>
<text x="39.50" y="680.60" font-size="10.0" text-anchor="middle" fill="#231f20"  textLength="9.00" lengthAdjust="spacingAndGlyphs" >60</text>
<line x1="84.33" y1="666.30" x2="84.33" y2="669.30" stroke="#231f20" stroke-width="1.0" stroke-linecap="butt"/>
<text x="84.33" y="680.60" font-size="10.0" text-anchor="middle" fill="#231f20"  textLength="9.00" lengthAdjust="spacingAndGlyphs" >65</text>
<line x1="129.15" y1="666.30" x2="129.15" y2="669.30" stroke="#231f20" stroke-width="1.0" stroke-linecap="butt"/>
<text x="129.15" y="680.60" font-size="10.0" text-anchor="middle" fill="#231f20"  textLength="9.00" lengthAdjust="spacingAndGlyphs" >70</text>
<line x1="173.98" y1="666.30" x2="173.98" y2="669.30" stroke="#231f20" stroke-width="1.0" stroke-linecap="butt"/>
<text x="173.98" y="680.60" font-size="10.0" text-anchor="middle" fill="#231f20"  textLength="9.00" lengthAdjust="spacingAndGlyphs" >75</text>
<line x1="218.80" y1="666.30" x2="218.80" y2="669.30" stroke="#231f20" stroke-width="1.0" stroke-linecap="butt"/>
<text x="218.80" y="680.60" font-size="10.0" text-anchor="middle" fill="#231f20"  textLength="9.00" lengthAdjust="spacingAndGlyphs" >80</text>
<text x="130.70" y="536.80" font-size="10.2" text-anchor="middle" fill="#231f20" font-style="italic" textLength="56.40" lengthAdjust="spacingAndGlyphs" >Lymphocyte</text>
<text x="130.60" y="694.60" font-size="10.2" text-anchor="middle" fill="#231f20" font-style="italic" textLength="41.00" lengthAdjust="spacingAndGlyphs" >Age (years)</text>
<line x1="39.50" y1="568.10" x2="110.60" y2="572.10" stroke="#c23a5c" stroke-width="1.2" stroke-linecap="butt"/>
<line x1="192.10" y1="576.40" x2="218.80" y2="577.50" stroke="#c23a5c" stroke-width="1.2" stroke-linecap="butt"/>
<line x1="39.50" y1="581.20" x2="218.80" y2="590.70" stroke="#86be65" stroke-width="1.2" stroke-linecap="butt"/>
<line x1="39.50" y1="596.60" x2="218.80" y2="606.40" stroke="#86be65" stroke-width="1.2" stroke-linecap="butt"/>
<line x1="39.50" y1="612.10" x2="218.80" y2="622.20" stroke="#86be65" stroke-width="1.2" stroke-linecap="butt"/>
<line x1="39.50" y1="625.40" x2="218.80" y2="634.90" stroke="#4d6aa6" stroke-width="1.2" stroke-linecap="butt"/>
<text x="222.80" y="579.90" font-size="8.2" text-anchor="start" fill="#231f20" font-style="italic" textLength="15.70" lengthAdjust="spacingAndGlyphs" >99th</text>
<text x="222.80" y="593.60" font-size="8.2" text-anchor="start" fill="#231f20" font-style="italic" textLength="15.70" lengthAdjust="spacingAndGlyphs" >90th</text>
<text x="222.80" y="609.50" font-size="8.2" text-anchor="start" fill="#231f20" font-style="italic" textLength="15.70" lengthAdjust="spacingAndGlyphs" >50th</text>
<text x="222.80" y="625.30" font-size="8.2" text-anchor="start" fill="#231f20" font-style="italic" textLength="15.70" lengthAdjust="spacingAndGlyphs" >10th</text>
<text x="222.80" y="637.60" font-size="8.2" text-anchor="start" fill="#231f20" font-style="italic" textLength="10.50" lengthAdjust="spacingAndGlyphs" >1st</text>
<polygon points="143.20,589.50 148.50,589.50 148.50,609.80 151.10,609.80 145.75,617.30 140.40,609.80 143.20,609.80" fill="url(#ag)" stroke="#2e2e2e" stroke-width="0.9" stroke-linejoin="miter"/>
<circle cx="128.70" cy="621.90" r="5.40" fill="#2c4780" stroke="#1f3874" stroke-width="0.6"/>
<circle cx="164.80" cy="622.60" r="5.40" fill="#2c4780" stroke="#1f3874" stroke-width="0.6"/>
<text x="151.50" y="578.70" font-size="8.4" text-anchor="middle" fill="#231f20"  >Lung transplant</text>
<text x="102.10" y="641.70" font-size="8.4" text-anchor="middle" fill="#231f20"  >IPF diagnosed</text>
<text x="198.60" y="646.80" font-size="8.4" text-anchor="middle" fill="#231f20"  >MDS diagnosed</text>
<text x="16.90" y="604.80" font-size="11.2" text-anchor="middle" fill="#231f20"  textLength="60.00" lengthAdjust="spacingAndGlyphs" transform="rotate(-90 16.90 604.80)" >Telomere length</text>
<line x1="271.70" y1="543.50" x2="271.70" y2="667.00" stroke="#231f20" stroke-width="1.2" stroke-linecap="butt"/>
<line x1="271.10" y1="666.30" x2="452.30" y2="666.30" stroke="#231f20" stroke-width="1.3" stroke-linecap="butt"/>
<line x1="267.20" y1="666.30" x2="271.70" y2="666.30" stroke="#231f20" stroke-width="1.0" stroke-linecap="butt"/>
<text x="264.90" y="669.60" font-size="9.6" text-anchor="end" fill="#231f20"  textLength="4.75" lengthAdjust="spacingAndGlyphs" >0</text>
<line x1="267.90" y1="654.30" x2="271.70" y2="654.30" stroke="#231f20" stroke-width="1.0" stroke-linecap="butt"/>
<line x1="267.20" y1="642.30" x2="271.70" y2="642.30" stroke="#231f20" stroke-width="1.0" stroke-linecap="butt"/>
<text x="264.90" y="645.60" font-size="9.6" text-anchor="end" fill="#231f20"  textLength="4.75" lengthAdjust="spacingAndGlyphs" >2</text>
<line x1="267.90" y1="630.30" x2="271.70" y2="630.30" stroke="#231f20" stroke-width="1.0" stroke-linecap="butt"/>
<line x1="267.20" y1="618.30" x2="271.70" y2="618.30" stroke="#231f20" stroke-width="1.0" stroke-linecap="butt"/>
<text x="264.90" y="621.60" font-size="9.6" text-anchor="end" fill="#231f20"  textLength="4.75" lengthAdjust="spacingAndGlyphs" >4</text>
<line x1="267.90" y1="606.30" x2="271.70" y2="606.30" stroke="#231f20" stroke-width="1.0" stroke-linecap="butt"/>
<line x1="267.20" y1="594.30" x2="271.70" y2="594.30" stroke="#231f20" stroke-width="1.0" stroke-linecap="butt"/>
<text x="264.90" y="597.60" font-size="9.6" text-anchor="end" fill="#231f20"  textLength="4.75" lengthAdjust="spacingAndGlyphs" >6</text>
<line x1="267.90" y1="582.30" x2="271.70" y2="582.30" stroke="#231f20" stroke-width="1.0" stroke-linecap="butt"/>
<line x1="267.20" y1="570.30" x2="271.70" y2="570.30" stroke="#231f20" stroke-width="1.0" stroke-linecap="butt"/>
<text x="264.90" y="573.60" font-size="9.6" text-anchor="end" fill="#231f20"  textLength="4.75" lengthAdjust="spacingAndGlyphs" >8</text>
<line x1="267.90" y1="558.30" x2="271.70" y2="558.30" stroke="#231f20" stroke-width="1.0" stroke-linecap="butt"/>
<line x1="267.20" y1="546.30" x2="271.70" y2="546.30" stroke="#231f20" stroke-width="1.0" stroke-linecap="butt"/>
<text x="264.90" y="549.60" font-size="9.6" text-anchor="end" fill="#231f20"  textLength="9.50" lengthAdjust="spacingAndGlyphs" >10</text>
<line x1="271.70" y1="666.30" x2="271.70" y2="669.30" stroke="#231f20" stroke-width="1.0" stroke-linecap="butt"/>
<text x="271.70" y="680.60" font-size="10.0" text-anchor="middle" fill="#231f20"  textLength="9.00" lengthAdjust="spacingAndGlyphs" >60</text>
<line x1="316.70" y1="666.30" x2="316.70" y2="669.30" stroke="#231f20" stroke-width="1.0" stroke-linecap="butt"/>
<text x="316.70" y="680.60" font-size="10.0" text-anchor="middle" fill="#231f20"  textLength="9.00" lengthAdjust="spacingAndGlyphs" >65</text>
<line x1="361.70" y1="666.30" x2="361.70" y2="669.30" stroke="#231f20" stroke-width="1.0" stroke-linecap="butt"/>
<text x="361.70" y="680.60" font-size="10.0" text-anchor="middle" fill="#231f20"  textLength="9.00" lengthAdjust="spacingAndGlyphs" >70</text>
<line x1="406.70" y1="666.30" x2="406.70" y2="669.30" stroke="#231f20" stroke-width="1.0" stroke-linecap="butt"/>
<text x="406.70" y="680.60" font-size="10.0" text-anchor="middle" fill="#231f20"  textLength="9.00" lengthAdjust="spacingAndGlyphs" >75</text>
<line x1="451.70" y1="666.30" x2="451.70" y2="669.30" stroke="#231f20" stroke-width="1.0" stroke-linecap="butt"/>
<text x="451.70" y="680.60" font-size="10.0" text-anchor="middle" fill="#231f20"  textLength="9.00" lengthAdjust="spacingAndGlyphs" >80</text>
<text x="362.30" y="536.80" font-size="10.2" text-anchor="middle" fill="#231f20" font-style="italic" textLength="57.00" lengthAdjust="spacingAndGlyphs" >Granulocyte</text>
<text x="361.90" y="694.60" font-size="10.2" text-anchor="middle" fill="#231f20" font-style="italic" textLength="41.00" lengthAdjust="spacingAndGlyphs" >Age (years)</text>
<line x1="271.70" y1="563.90" x2="346.90" y2="566.30" stroke="#c23a5c" stroke-width="1.2" stroke-linecap="butt"/>
<line x1="428.50" y1="568.50" x2="450.80" y2="569.20" stroke="#c23a5c" stroke-width="1.2" stroke-linecap="butt"/>
<line x1="271.70" y1="575.20" x2="450.80" y2="580.30" stroke="#86be65" stroke-width="1.2" stroke-linecap="butt"/>
<line x1="271.70" y1="588.40" x2="450.80" y2="593.50" stroke="#86be65" stroke-width="1.2" stroke-linecap="butt"/>
<line x1="271.70" y1="602.10" x2="450.80" y2="607.20" stroke="#86be65" stroke-width="1.2" stroke-linecap="butt"/>
<line x1="271.70" y1="612.90" x2="450.80" y2="618.20" stroke="#4d6aa6" stroke-width="1.2" stroke-linecap="butt"/>
<text x="455.10" y="570.80" font-size="8.2" text-anchor="start" fill="#231f20" font-style="italic" textLength="15.70" lengthAdjust="spacingAndGlyphs" >99th</text>
<text x="455.10" y="583.40" font-size="8.2" text-anchor="start" fill="#231f20" font-style="italic" textLength="15.70" lengthAdjust="spacingAndGlyphs" >90th</text>
<text x="455.10" y="596.90" font-size="8.2" text-anchor="start" fill="#231f20" font-style="italic" textLength="15.70" lengthAdjust="spacingAndGlyphs" >50th</text>
<text x="455.10" y="609.70" font-size="8.2" text-anchor="start" fill="#231f20" font-style="italic" textLength="15.70" lengthAdjust="spacingAndGlyphs" >10th</text>
<text x="455.10" y="622.30" font-size="8.2" text-anchor="start" fill="#231f20" font-style="italic" textLength="10.50" lengthAdjust="spacingAndGlyphs" >1st</text>
<polygon points="376.30,576.00 382.10,576.00 382.10,596.30 384.60,596.30 379.40,603.70 374.20,596.30 376.30,596.30" fill="url(#ag)" stroke="#2e2e2e" stroke-width="0.9" stroke-linejoin="miter"/>
<circle cx="361.20" cy="610.10" r="5.40" fill="#a80030" stroke="#9a0026" stroke-width="0.6"/>
<circle cx="397.30" cy="627.80" r="5.40" fill="#a80030" stroke="#9a0026" stroke-width="0.6"/>
<text x="387.40" y="570.90" font-size="8.4" text-anchor="middle" fill="#231f20"  >Lung transplant</text>
<text x="342.80" y="626.00" font-size="8.4" text-anchor="middle" fill="#231f20"  >IPF diagnosed</text>
<text x="415.90" y="643.30" font-size="8.4" text-anchor="middle" fill="#231f20"  >MDS diagnosed</text>
<rect x="0.5" y="0.5" width="519" height="704" fill="none" stroke="#000" stroke-width="1.2"/>
</svg>
</body></html>
